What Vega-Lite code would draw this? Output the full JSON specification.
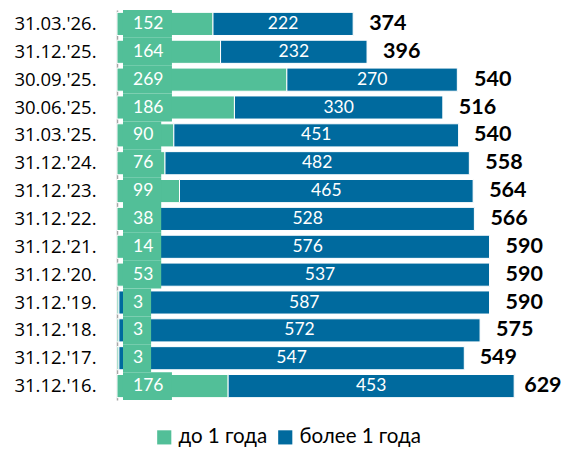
{
  "$schema": "https://vega.github.io/schema/vega-lite/v6.json",
  "width": 442,
  "height": 390,
  "autosize": "none",
  "padding": {"left": 117, "top": 10, "right": 8, "bottom": 49},
  "config": {"view": {"stroke": null}, "font": "Lato"},
  "datasets": {
    "seg": [
      {"cat": "31.03.'26.", "type": "до 1 года", "k": 0, "v": 152},
      {"cat": "31.03.'26.", "type": "более 1 года", "k": 1, "v": 222},
      {"cat": "31.12.'25.", "type": "до 1 года", "k": 0, "v": 164},
      {"cat": "31.12.'25.", "type": "более 1 года", "k": 1, "v": 232},
      {"cat": "30.09.'25.", "type": "до 1 года", "k": 0, "v": 269},
      {"cat": "30.09.'25.", "type": "более 1 года", "k": 1, "v": 270},
      {"cat": "30.06.'25.", "type": "до 1 года", "k": 0, "v": 186},
      {"cat": "30.06.'25.", "type": "более 1 года", "k": 1, "v": 330},
      {"cat": "31.03.'25.", "type": "до 1 года", "k": 0, "v": 90},
      {"cat": "31.03.'25.", "type": "более 1 года", "k": 1, "v": 451},
      {"cat": "31.12.'24.", "type": "до 1 года", "k": 0, "v": 76},
      {"cat": "31.12.'24.", "type": "более 1 года", "k": 1, "v": 482},
      {"cat": "31.12.'23.", "type": "до 1 года", "k": 0, "v": 99},
      {"cat": "31.12.'23.", "type": "более 1 года", "k": 1, "v": 465},
      {"cat": "31.12.'22.", "type": "до 1 года", "k": 0, "v": 38},
      {"cat": "31.12.'22.", "type": "более 1 года", "k": 1, "v": 528},
      {"cat": "31.12.'21.", "type": "до 1 года", "k": 0, "v": 14},
      {"cat": "31.12.'21.", "type": "более 1 года", "k": 1, "v": 576},
      {"cat": "31.12.'20.", "type": "до 1 года", "k": 0, "v": 53},
      {"cat": "31.12.'20.", "type": "более 1 года", "k": 1, "v": 537},
      {"cat": "31.12.'19.", "type": "до 1 года", "k": 0, "v": 3},
      {"cat": "31.12.'19.", "type": "более 1 года", "k": 1, "v": 587},
      {"cat": "31.12.'18.", "type": "до 1 года", "k": 0, "v": 3},
      {"cat": "31.12.'18.", "type": "более 1 года", "k": 1, "v": 572},
      {"cat": "31.12.'17.", "type": "до 1 года", "k": 0, "v": 3},
      {"cat": "31.12.'17.", "type": "более 1 года", "k": 1, "v": 547},
      {"cat": "31.12.'16.", "type": "до 1 года", "k": 0, "v": 176},
      {"cat": "31.12.'16.", "type": "более 1 года", "k": 1, "v": 453}
    ],
    "tot": [
      {"cat": "31.03.'26.", "total": 374},
      {"cat": "31.12.'25.", "total": 396},
      {"cat": "30.09.'25.", "total": 540},
      {"cat": "30.06.'25.", "total": 516},
      {"cat": "31.03.'25.", "total": 540},
      {"cat": "31.12.'24.", "total": 558},
      {"cat": "31.12.'23.", "total": 564},
      {"cat": "31.12.'22.", "total": 566},
      {"cat": "31.12.'21.", "total": 590},
      {"cat": "31.12.'20.", "total": 590},
      {"cat": "31.12.'19.", "total": 590},
      {"cat": "31.12.'18.", "total": 575},
      {"cat": "31.12.'17.", "total": 549},
      {"cat": "31.12.'16.", "total": 629}
    ]
  },
  "encoding": {
    "y": {
      "field": "cat",
      "type": "nominal",
      "sort": null,
      "title": null,
      "scale": {"paddingInner": 0, "paddingOuter": 0},
      "axis": {
        "ticks": false,
        "labelFont": "Open Sans",
        "labelFontSize": 18.5,
        "labelColor": "#000000",
        "labelPadding": 21,
        "domainColor": "#a6a6a6",
        "domainWidth": 1.5
      }
    }
  },
  "layer": [
    {
      "data": {"name": "seg"},
      "mark": {"type": "bar", "height": {"band": 0.83}, "stroke": "#ffffff", "strokeWidth": 1},
      "encoding": {
        "x": {"field": "v", "type": "quantitative", "stack": "zero", "scale": {"domain": [0, 700], "nice": false}, "axis": null},
        "color": {
          "field": "type",
          "type": "nominal",
          "scale": {"domain": ["до 1 года", "более 1 года"], "range": ["#52BF98", "#006A9E"]},
          "legend": {
            "title": null,
            "orient": "none",
            "direction": "horizontal",
            "legendX": 37,
            "legendY": 417,
            "symbolType": "square",
            "symbolSize": 200,
            "symbolStrokeWidth": 0,
            "labelFontSize": 20.5,
            "labelColor": "#000000",
            "labelOffset": 4,
            "columnPadding": 7
          }
        },
        "order": {"field": "k"}
      }
    },
    {
      "data": {"name": "seg"},
      "transform": [{"filter": "datum.type === 'до 1 года' && datum.v >= 100"}],
      "mark": {"type": "rect", "color": "#52BF98"},
      "encoding": {"x": {"datum": 9.5, "type": "quantitative"}, "x2": {"datum": 87}}
    },
    {
      "data": {"name": "seg"},
      "transform": [{"filter": "datum.type === 'до 1 года' && datum.v >= 10 && datum.v < 100"}],
      "mark": {"type": "rect", "color": "#52BF98"},
      "encoding": {"x": {"datum": 9.5, "type": "quantitative"}, "x2": {"datum": 70}}
    },
    {
      "data": {"name": "seg"},
      "transform": [{"filter": "datum.type === 'до 1 года' && datum.v < 10"}],
      "mark": {"type": "rect", "color": "#52BF98"},
      "encoding": {"x": {"datum": 9.5, "type": "quantitative"}, "x2": {"datum": 54}}
    },
    {
      "data": {"name": "seg"},
      "transform": [{"filter": "datum.type === 'до 1 года'"}],
      "mark": {"type": "text", "align": "left", "baseline": "middle", "dx": 16, "fontSize": 17.5, "color": "#ffffff"},
      "encoding": {"x": {"datum": 0, "type": "quantitative"}, "text": {"field": "v", "type": "quantitative"}}
    },
    {
      "data": {"name": "seg"},
      "mark": {"type": "text", "align": "center", "baseline": "middle", "fontSize": 17.5, "color": "#ffffff"},
      "encoding": {
        "x": {"field": "v", "type": "quantitative", "stack": "zero", "bandPosition": 0.5},
        "order": {"field": "k"},
        "text": {"field": "v", "type": "quantitative"},
        "opacity": {"condition": {"test": "datum.type === 'до 1 года'", "value": 0}, "value": 1}
      }
    },
    {
      "data": {"name": "tot"},
      "transform": [{"filter": "datum.total < 600"}],
      "mark": {"type": "text", "align": "left", "baseline": "middle", "dx": 16, "fontSize": 21.5, "fontWeight": "bold", "color": "#000000"},
      "encoding": {"x": {"field": "total", "type": "quantitative"}, "text": {"field": "total", "type": "quantitative"}}
    },
    {
      "data": {"name": "tot"},
      "transform": [{"filter": "datum.total >= 600"}],
      "mark": {"type": "text", "align": "left", "baseline": "middle", "dx": 10, "fontSize": 21.5, "fontWeight": "bold", "color": "#000000"},
      "encoding": {"x": {"field": "total", "type": "quantitative"}, "text": {"field": "total", "type": "quantitative"}}
    }
  ]
}
